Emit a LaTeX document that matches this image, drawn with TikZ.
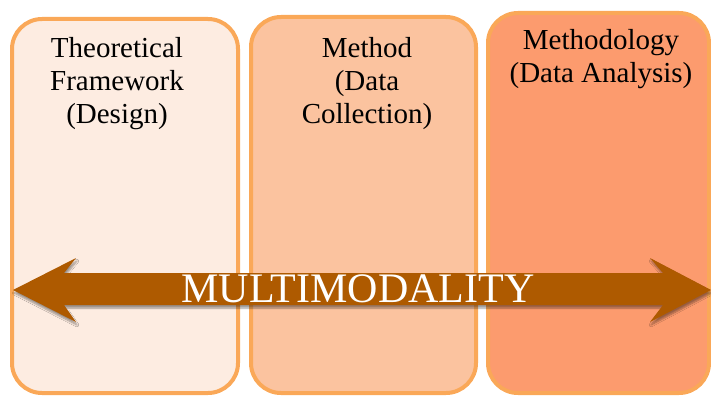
\documentclass[tikz,border=0pt]{standalone}
\usepackage{fontspec}
\setmainfont{Liberation Serif}
\usetikzlibrary{shadows.blur}
\definecolor{paneA}{RGB}{253,236,225}
\definecolor{paneB}{RGB}{251,195,159}
\definecolor{paneC}{RGB}{252,155,110}
\definecolor{paneEdge}{RGB}{250,168,88}
\definecolor{arrowBrown}{RGB}{174,90,0}
\begin{document}
\begin{tikzpicture}[x=1pt,y=-1pt,
  pane/.style={draw=paneEdge, line width=4pt, rounded corners=30pt, inner sep=0pt},
  panelabel/.style={font=\fontsize{29}{33}\selectfont, align=center, anchor=base, inner sep=0pt},
]
\useasboundingbox (0,0) rectangle (711,396);
% three stages
\node[pane, fill=paneA, minimum width=226pt, minimum height=374pt] (design) at (125,206) {};
\node[pane, fill=paneB, minimum width=225pt, minimum height=376pt] (collection) at (363.5,205) {};
\node[pane, fill=paneC, minimum width=221pt, minimum height=380pt] (analysis) at (598.5,203) {};
% labels are anchored at the baseline of their last line
\node[panelabel] (designtext) at (117,123) {Theoretical\\Framework\\(Design)};
\node[panelabel] (collectiontext) at (367,123) {Method\\(Data\\Collection)};
\node[panelabel] (analysistext) at (601,82) {Methodology\\(Data Analysis)};
% double-headed arrow across all stages
\fill[arrowBrown, blur shadow={shadow xshift=1pt, shadow yshift=-3pt, shadow blur steps=6, shadow opacity=40}]
  (13,290) -- (76,258) -- (64,273) -- (663,273) -- (650,258) -- (711,290)
  -- (650,322) -- (663,305) -- (64,305) -- (76,322) -- cycle;
\node[font=\fontsize{42}{46}\selectfont, text=white, anchor=base, inner sep=0pt] (mm) at (358,302) {MULTIMODALITY};
\end{tikzpicture}
\end{document}
